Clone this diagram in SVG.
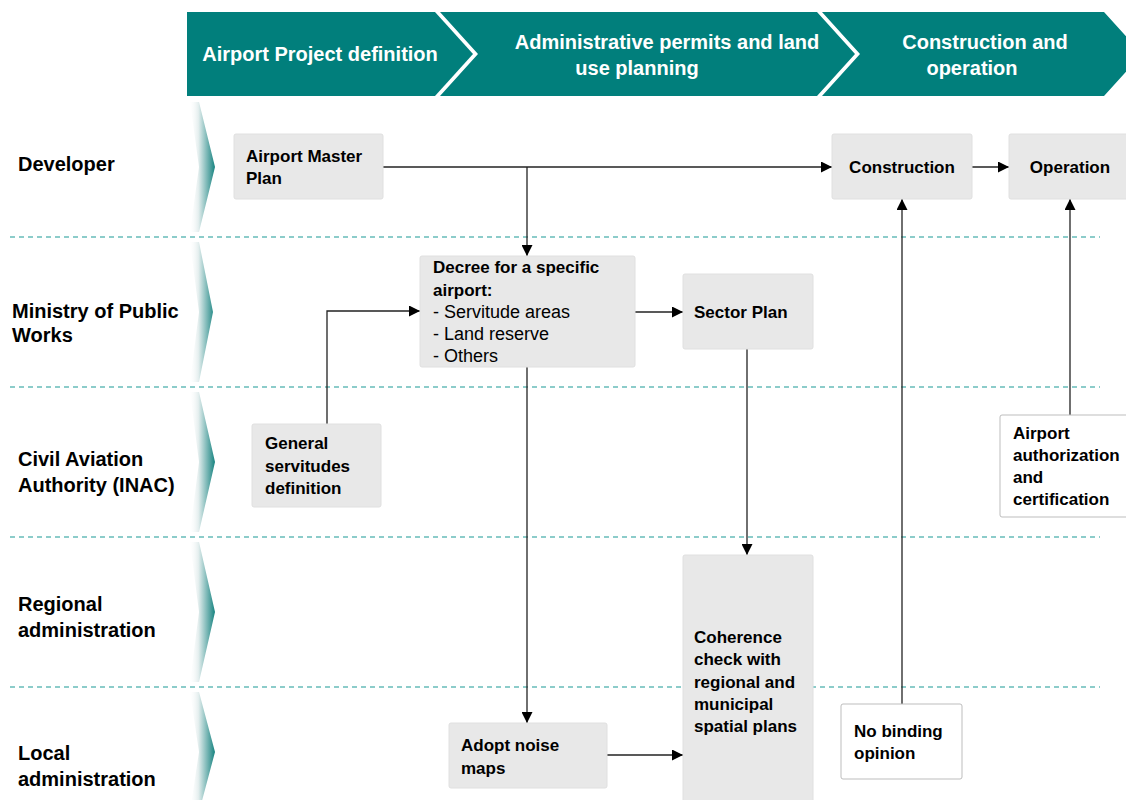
<svg xmlns="http://www.w3.org/2000/svg" width="1126" height="800" viewBox="0 0 1126 800">
<style>
.hdr{fill:#017f7c}
.ht{font-family:"Liberation Sans",Arial,sans-serif;font-weight:bold;font-size:20px;fill:#fff;text-anchor:middle}
.lane{font-family:"Liberation Sans",Arial,sans-serif;font-weight:bold;font-size:20px;fill:#000}
.sep{stroke:#1a9a96;stroke-width:1.2;stroke-dasharray:5 4;fill:none}
.box{fill:#e8e8e8;stroke:#e0e0e0;stroke-width:1}
.wbox{fill:#fff;stroke:#bdbdbd;stroke-width:1}
.t{font-family:"Liberation Sans",Arial,sans-serif;font-weight:bold;font-size:17px;fill:#000}
.r{font-family:"Liberation Sans",Arial,sans-serif;font-weight:normal;font-size:18px;fill:#000}
.c{fill:none;stroke:#222;stroke-width:1.3}
.deco{fill:url(#lg)}
</style>
<defs>
<linearGradient id="lg" gradientUnits="userSpaceOnUse" x1="189" y1="0" x2="216" y2="0">
<stop offset="0" stop-color="#ffffff" stop-opacity="0"/>
<stop offset="0.35" stop-color="#e4eeee"/>
<stop offset="1" stop-color="#0b7d7a"/>
</linearGradient>
<marker id="ah" markerUnits="userSpaceOnUse" markerWidth="11" markerHeight="11" refX="11" refY="5.5" orient="auto" viewBox="0 0 11 11">
<path d="M0,0 L11,5.5 L0,11 Z" fill="#000"/>
</marker>
</defs>

<g id="header">
<polygon class="hdr" points="187,12 435,12 473,54 435,96 187,96"/>
<polygon class="hdr" points="440,12 817,12 855,54 817,96 440,96 478,54"/>
<polygon class="hdr" points="822,12 1104,12 1142,54 1104,96 822,96 860,54"/>
<text class="ht" x="320" y="61">Airport Project definition</text>
<text class="ht" x="667" y="49">Administrative permits and land</text>
<text class="ht" x="637" y="75">use planning</text>
<text class="ht" x="985" y="49">Construction and</text>
<text class="ht" x="972" y="75">operation</text>
</g>

<g id="lanes">
<line class="sep" x1="10" y1="237" x2="1100" y2="237"/>
<line class="sep" x1="10" y1="387" x2="1100" y2="387"/>
<line class="sep" x1="10" y1="537" x2="1100" y2="537"/>
<line class="sep" x1="10" y1="687" x2="1100" y2="687"/>
<polygon class="deco" points="190,102 199,102 215,167 199,232 190,232 199,167"/>
<polygon class="deco" points="190,242 199,242 213,312 199,382 190,382 199,312"/>
<polygon class="deco" points="190,392 199,392 215,462 199,532 190,532 199,462"/>
<polygon class="deco" points="190,542 199,542 215,612 199,682 190,682 199,612"/>
<polygon class="deco" points="190,692 199,692 215,752 199,812 190,812 199,752"/>
<text class="lane" x="18" y="171">Developer</text>
<text class="lane" x="12" y="318">Ministry of Public</text>
<text class="lane" x="12" y="342">Works</text>
<text class="lane" x="18" y="466">Civil Aviation</text>
<text class="lane" x="18" y="492">Authority (INAC)</text>
<text class="lane" x="18" y="611">Regional</text>
<text class="lane" x="18" y="637">administration</text>
<text class="lane" x="18" y="760">Local</text>
<text class="lane" x="18" y="786">administration</text>
</g>

<g id="connectors">
<line class="c" x1="383" y1="167" x2="832" y2="167" marker-end="url(#ah)"/>
<line class="c" x1="527" y1="167" x2="527" y2="256" marker-end="url(#ah)"/>
<line class="c" x1="972" y1="167" x2="1009" y2="167" marker-end="url(#ah)"/>
<polyline class="c" points="327,424 327,311 420,311" marker-end="url(#ah)"/>
<line class="c" x1="635" y1="312" x2="683" y2="312" marker-end="url(#ah)"/>
<line class="c" x1="527" y1="367" x2="527" y2="723" marker-end="url(#ah)"/>
<line class="c" x1="747" y1="349" x2="747" y2="555" marker-end="url(#ah)"/>
<line class="c" x1="607" y1="755" x2="683" y2="755" marker-end="url(#ah)"/>
<line class="c" x1="902" y1="704" x2="902" y2="199" marker-end="url(#ah)"/>
<line class="c" x1="1070" y1="415" x2="1070" y2="199" marker-end="url(#ah)"/>
</g>

<g id="n-master">
<rect class="box" x="234" y="134" width="149" height="65" rx="2"/>
<text class="t" x="246" y="162">Airport Master</text>
<text class="t" x="246" y="184">Plan</text>
</g>
<g id="n-construction">
<rect class="box" x="832" y="134" width="140" height="65" rx="2"/>
<text class="t" x="902" y="173" text-anchor="middle">Construction</text>
</g>
<g id="n-operation">
<rect class="box" x="1009" y="134" width="125" height="65" rx="2"/>
<text class="t" x="1070" y="173" text-anchor="middle">Operation</text>
</g>
<g id="n-decree">
<rect class="box" x="420" y="256" width="215" height="111" rx="2"/>
<text class="t" x="433" y="273">Decree for a specific</text>
<text class="t" x="433" y="296">airport:</text>
<text class="r" x="433" y="318">- Servitude areas</text>
<text class="r" x="433" y="340">- Land reserve</text>
<text class="r" x="433" y="362">- Others</text>
</g>
<g id="n-sector">
<rect class="box" x="683" y="274" width="130" height="75" rx="2"/>
<text class="t" x="694" y="318">Sector Plan</text>
</g>
<g id="n-general">
<rect class="box" x="252" y="424" width="129" height="83" rx="2"/>
<text class="t" x="265" y="449">General</text>
<text class="t" x="265" y="472">servitudes</text>
<text class="t" x="265" y="494">definition</text>
</g>
<g id="n-authorization">
<rect class="wbox" x="1000" y="415" width="134" height="102" rx="2"/>
<text class="t" x="1013" y="439">Airport</text>
<text class="t" x="1013" y="461">authorization</text>
<text class="t" x="1013" y="483">and</text>
<text class="t" x="1013" y="505">certification</text>
</g>
<g id="n-coherence">
<rect class="box" x="683" y="555" width="130" height="255" rx="2"/>
<text class="t" x="694" y="643">Coherence</text>
<text class="t" x="694" y="665">check with</text>
<text class="t" x="694" y="688">regional and</text>
<text class="t" x="694" y="710">municipal</text>
<text class="t" x="694" y="732">spatial plans</text>
</g>
<g id="n-noise">
<rect class="box" x="449" y="723" width="158" height="65" rx="2"/>
<text class="t" x="461" y="751">Adopt noise</text>
<text class="t" x="461" y="774">maps</text>
</g>
<g id="n-nobinding">
<rect class="wbox" x="841" y="704" width="121" height="75" rx="2"/>
<text class="t" x="854" y="737">No binding</text>
<text class="t" x="854" y="759">opinion</text>
</g>
</svg>
